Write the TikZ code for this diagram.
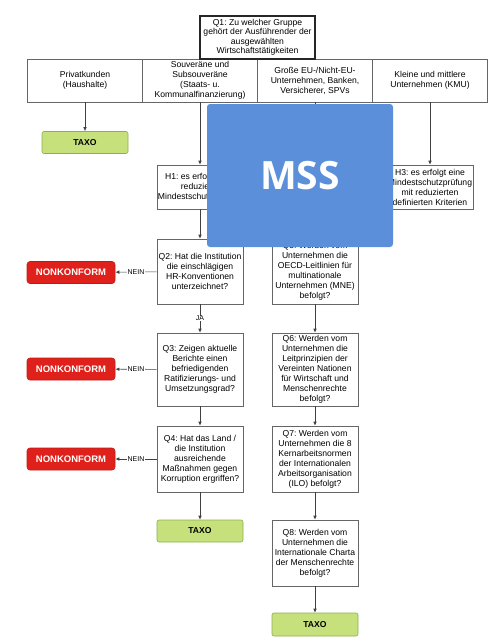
\documentclass[tikz,border=0pt]{standalone}
\usepackage{fontspec}
\setmainfont{Liberation Sans}
\newfontfamily\mssfont{Open Sans}
\usetikzlibrary{arrows.meta}
\frenchspacing

\definecolor{taxogruen}{RGB}{198,224,124}
\definecolor{taxorand}{RGB}{140,176,78}
\definecolor{nonkrot}{RGB}{224,32,26}
\definecolor{mssblau}{RGB}{92,143,217}

\begin{document}
\begin{tikzpicture}[x = 1pt, y = -1pt, line width = 0.6pt,
                        frage/.style = {draw = black!60, fill = white, align = center, inner sep = 1pt,
                                        font = \fontsize{8.6}{10}\selectfont, minimum width = 86pt},
                        kopf/.style = {frage, minimum width = 115pt, minimum height = 43pt},
                        taxo/.style = {draw = taxorand, fill = taxogruen, rounded corners = 2pt,
                                       font = \bfseries\fontsize{8.6}{10}\selectfont,
                                       minimum width = 86pt, minimum height = 22pt},
                        nonk/.style = {draw = nonkrot!85!black, fill = nonkrot, rounded corners = 3pt, text = white,
                                       font = \bfseries\fontsize{9.5}{11}\selectfont,
                                       minimum width = 88pt, minimum height = 22pt},
                        pfeil/.style = {draw = black!75, -{Latex[length = 4pt, width = 3.5pt]}},
                        marke/.style = {fill = white, inner sep = 0.5pt, font = \fontsize{7}{7}\selectfont}]
      \useasboundingbox (0, 0) rectangle (500, 641);
      % erste Frage und Gruppen
      \node [kopf] (priv) at (85, 80.5){Privatkunden\\(Haushalte)};
      \node [kopf] (souv) at (200, 80.5){Souveräne und\\Subsouveräne\\(Staats- u.\\Kommunalfinanzierung)};
      \node [kopf] (gross) at (315, 80.5){Große EU-/Nicht-EU-\\Unternehmen, Banken,\\Versicherer, SPVs};
      \node [kopf] (kmu) at (430, 80.5){Kleine und mittlere\\Unternehmen (KMU)};
      \node [frage, draw = black!85, line width = 1.1pt, minimum width = 115pt, minimum height = 43pt,
             font = \fontsize{8.6}{9.5}\selectfont] (q1) at (257.5, 37.5)
            {Q1: Zu welcher Gruppe\\gehört der Ausführender der\\ausgewählten\\Wirtschaftstätigkeiten};
      \node [taxo] (taxo1) at (85, 142.5){TAXO};
      \node [frage, minimum height = 44pt] (h1) at (200, 187){H1: es erfolgt eine\\reduzierte\\Mindestschutzprüfung};
      \node [frage, minimum height = 44pt] (h3) at (430, 187){H3: es erfolgt eine\\Mindestschutzprüfung\\mit reduzierten\\definierten Kriterien};
      % linke Spalte
      \node [frage, minimum height = 65pt] (q2) at (200, 271.5){Q2: Hat die Institution\\die einschlägigen\\HR-Konventionen\\unterzeichnet?};
      \node [frage, minimum height = 73pt] (q3) at (200, 369.5){Q3: Zeigen aktuelle\\Berichte einen\\befriedigenden\\Ratifizierungs- und\\Umsetzungsgrad?};
      \node [frage, minimum height = 66pt] (q4) at (200, 459){Q4: Hat das Land /\\die Institution\\ausreichende\\Maßnahmen gegen\\Korruption ergriffen?};
      \node [taxo] (taxo2) at (200, 531){TAXO};
      \node [nonk] (nk1) at (71, 272.5){NONKONFORM};
      \node [nonk] (nk2) at (71, 369){NONKONFORM};
      \node [nonk] (nk3) at (71, 459){NONKONFORM};
      % rechte Spalte
      \node [frage, minimum height = 66pt] (q5) at (315, 271){Q5: Werden vom\\Unternehmen die\\OECD-Leitlinien für\\multinationale\\Unternehmen (MNE)\\befolgt?};
      \node [frage, minimum height = 73pt] (q6) at (315, 369.5){Q6: Werden vom\\Unternehmen die\\Leitprinzipien der\\Vereinten Nationen\\für Wirtschaft und\\Menschenrechte\\befolgt?};
      \node [frage, minimum height = 66pt] (q7) at (315, 459){Q7: Werden vom\\Unternehmen die 8\\Kernarbeitsnormen\\der Internationalen\\Arbeitsorganisation\\(ILO) befolgt?};
      \node [frage, minimum height = 66pt] (q8) at (315, 553){Q8: Werden vom\\Unternehmen die\\Internationale Charta\\der Menschenrechte\\befolgt?};
      \node [taxo, minimum height = 23pt] (taxo3) at (315, 624.5){TAXO};
      % Pfeile
      \draw [pfeil] (priv) -- (taxo1);
      \draw [pfeil] (souv) -- (h1);
      \draw [pfeil] (gross) -- (q5);
      \draw [pfeil] (kmu) -- (h3);
      \draw [pfeil] (h1) -- (q2);
      \draw [pfeil] (q2) -- node [marke] {JA} (q3);
      \draw [pfeil] (q3) -- (q4);
      \draw [pfeil] (q4) -- (taxo2);
      \draw [pfeil] (q2) -- node [marke] {NEIN} (nk1);
      \draw [pfeil] (q3) -- node [marke] {NEIN} (nk2);
      \draw [pfeil] (q4) -- node [marke] {NEIN} (nk3);
      \draw [pfeil] (q5) -- (q6);
      \draw [pfeil] (q6) -- (q7);
      \draw [pfeil] (q7) -- (q8);
      \draw [pfeil] (q8) -- (taxo3);
      % Abdeckung
      \node [fill = mssblau, rounded corners = 3pt, minimum width = 186pt, minimum height = 143pt, text = white,
             font = \mssfont\bfseries\fontsize{39}{39}\selectfont] (mss) at (300, 175.5){MSS};
    \end{tikzpicture}
\end{document}
